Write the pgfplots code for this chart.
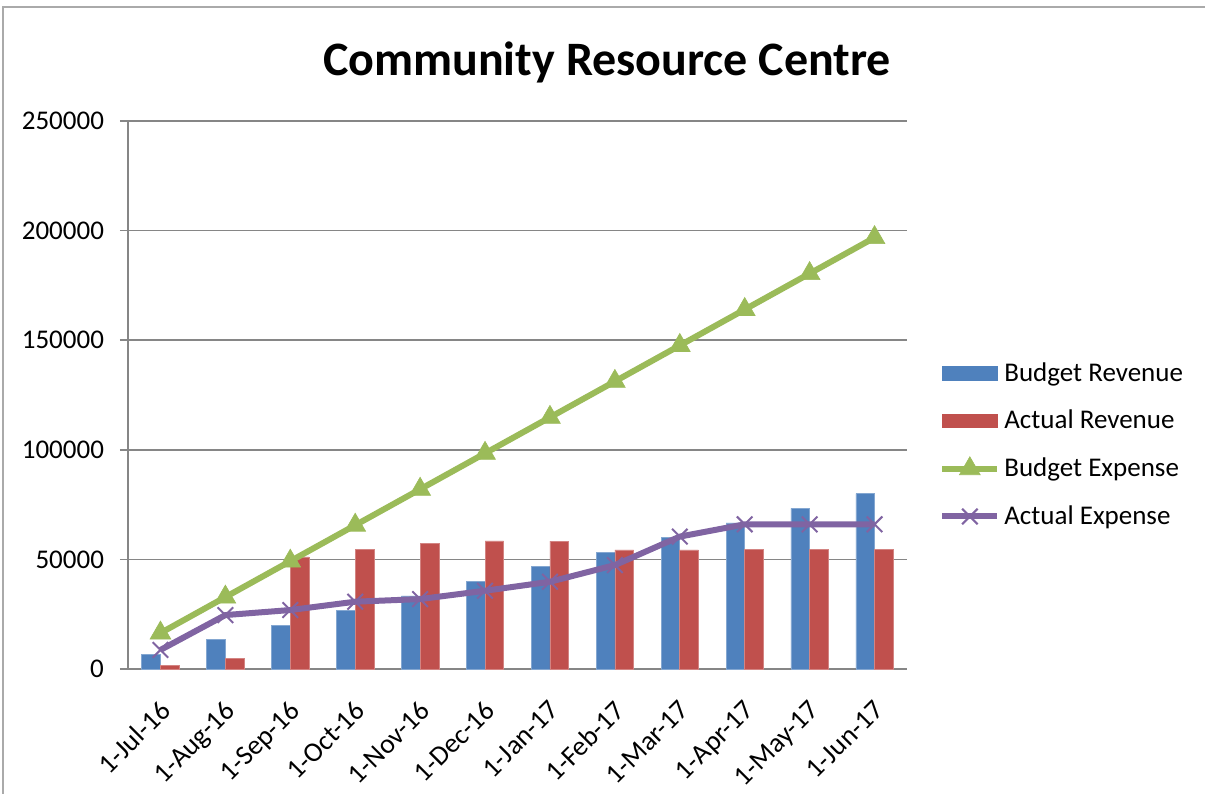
\documentclass[border=0pt]{standalone}
\usepackage{pgfplots}
\pgfplotsset{compat=1.18}
\usepackage{fontspec}
\setmainfont{Carlito}
\definecolor{cblue}{HTML}{4F81BD}
\definecolor{cred}{HTML}{C0504D}
\definecolor{cgreen}{HTML}{9BBB59}
\definecolor{cpurple}{HTML}{8064A2}
\definecolor{cgrid}{HTML}{868686}
\pgfplotsset{
  barlegblue/.style={legend image code/.code={\fill[cblue] (0pt,-3.3pt) rectangle (27.5pt,3.3pt);}},
  barlegred/.style={legend image code/.code={\fill[cred] (0pt,-3.3pt) rectangle (27.5pt,3.3pt);}},
  lineleg/.style={legend image code/.code={\draw[##1, mark repeat=2, mark phase=2] plot coordinates {(0pt,0pt) (13.75pt,0pt) (27.5pt,0pt)};}},
}
\begin{document}
\begin{tikzpicture}
\useasboundingbox (-64pt,-62pt) rectangle (538.5pt,334.5pt);
\draw[cgrid!70, line width=0.6pt] (-62.5pt,-80pt) rectangle (560pt,331pt);
\node[font=\fontsize{24}{28}\selectfont\bfseries] at (239.5pt,303.5pt) {Community Resource Centre};
\begin{axis}[
  at={(0pt,0pt)}, anchor=south west,
  scale only axis, width=389.5pt, height=274pt,
  xmin=-0.5, xmax=11.5, ymin=0, ymax=250000,
  axis x line*=bottom, axis y line*=left,
  axis line style={cgrid, line width=0.75pt},
  ytick={0,50000,100000,150000,200000,250000},
  ymajorgrids, grid style={cgrid, line width=0.75pt},
  scaled y ticks=false,
  /pgf/number format/fixed,
  /pgf/number format/precision=0,
  /pgf/number format/set thousands separator={},
  /pgf/number format/assume math mode=true,
  tick style={cgrid, line width=0.75pt},
  major tick length=4pt,
  y tick label style={font=\fontsize{13.5}{16}\selectfont, xshift=-4.5pt},
  xtick={0,...,11},
  xticklabels={1-Jul-16,1-Aug-16,1-Sep-16,1-Oct-16,1-Nov-16,1-Dec-16,1-Jan-17,1-Feb-17,1-Mar-17,1-Apr-17,1-May-17,1-Jun-17},
  x tick style={draw=none},
  x tick label style={font=\fontsize{13.8}{16}\selectfont, rotate=45, anchor=north east, inner sep=0pt, xshift=-8.3pt, yshift=-6.9pt},
  tick align=outside,
  legend style={at={(1.041,0.409)}, anchor=west, draw=none, fill=none,
    font=\fontsize{13.5}{16}\selectfont, row sep=9pt, inner sep=0pt,
    legend cell align=left},
  clip=false,
]
\addplot[ybar, bar width=0.288, bar shift=-0.144, fill=cblue, draw=cblue!70!white, line width=0.3pt, barlegblue]
  coordinates {(0,6667) (1,13333) (2,20000) (3,26667) (4,33333) (5,40000) (6,46667) (7,53333) (8,60000) (9,66667) (10,73333) (11,80000)};
\addlegendentry{Budget Revenue}
\addplot[ybar, bar width=0.288, bar shift=0.144, fill=cred, draw=cred!70!white, line width=0.3pt, barlegred]
  coordinates {(0,1800) (1,5000) (2,51100) (3,54600) (4,57200) (5,58400) (6,58300) (7,54300) (8,54300) (9,54600) (10,54600) (11,54600)};
\addlegendentry{Actual Revenue}
\addplot[cgreen, line width=3pt, mark=triangle*, mark size=6pt, mark options={solid, line width=0.3pt, fill=cgreen, draw=cgreen}, lineleg]
  coordinates {(0,16400) (1,32800) (2,49200) (3,65600) (4,82000) (5,98400) (6,114800) (7,131200) (8,147600) (9,164000) (10,180400) (11,196800)};
\addlegendentry{Budget Expense}
\addplot[cpurple, line width=3pt, mark=x, mark size=5.5pt, mark options={solid, line width=1pt}, lineleg]
  coordinates {(0,8700) (1,24600) (2,26900) (3,30700) (4,31900) (5,35700) (6,39800) (7,47400) (8,60400) (9,66000) (10,66000) (11,66000)};
\addlegendentry{Actual Expense}
\end{axis}
\end{tikzpicture}
\end{document}
